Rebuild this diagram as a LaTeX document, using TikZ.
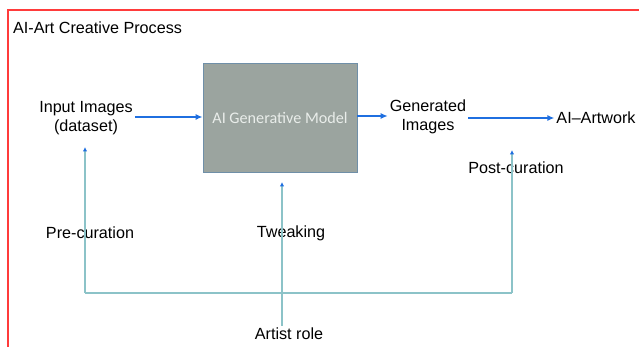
\documentclass[tikz,border=0pt]{standalone}
\usepackage{fontspec}
\setmainfont{Liberation Sans}
\newfontfamily\boxfont{Carlito}
\usetikzlibrary{arrows.meta}
\usetikzlibrary{positioning}
\definecolor{framered}{HTML}{FF3B3B}
\definecolor{flowblue}{HTML}{1F6FE0}
\definecolor{roleteal}{HTML}{8CC3C8}
\definecolor{modelgray}{HTML}{9BA49F}
\definecolor{modeledge}{HTML}{6F8FA8}
\definecolor{modeltext}{HTML}{E9EDEA}
\tikzset{
    label/.style={font=\fontsize{9.2}{11}\selectfont, align=center, inner sep=1pt},
    model/.style={draw=modeledge, line width=0.5pt, fill=modelgray,
        minimum width=154*0.02cm, minimum height=109*0.02cm,
        font=\boxfont\fontsize{9.2}{11}\selectfont, text=modeltext},
    flow/.style={draw=flowblue, line width=1.1pt,
        -{Latex[length=4pt,width=3.5pt]}},
    role/.style={draw=roleteal, line width=0.8pt},
    roletip/.style={draw=roleteal, line width=0.8pt,
        -{Latex[length=2.5pt,width=2.5pt,color=flowblue]}}
}
\begin{document}
\begin{tikzpicture}[x=0.02cm,y=-0.02cm]
	\useasboundingbox (0,0) rectangle (639,347);
	\draw[framered, line width=0.9pt] (8,347) -- (8,10) -- (639,10);
	\node[label, anchor=west] (title) at (11,28) {AI-Art Creative Process};
	% main flow
	\node[model] (gen) at (280,117.5) {AI Generative Model};
	\node[label] (input) at (86,118) {Input Images\\(dataset)};
	\node[label] (images) at (428,117) {Generated\\Images};
	\node[label] (artwork) at (596,118) {AI--Artwork};
	\draw[flow] (input.east |- 0,117) -- (gen.west |- 0,117);
	\draw[flow] (gen.east |- 0,116) -- (images.west |- 0,116);
	\draw[flow] (images.east |- 0,118) -- (artwork.west |- 0,118);
	% artist role
	\node[label] (pre) at (90,233) {Pre-curation};
	\node[label] (tweak) at (291,233) {Tweaking};
	\node[label] (post) at (516,168) {Post-curation};
	\node[label] (artist) at (289,334) {Artist role};
	\coordinate (loopL) at (85,293);
	\coordinate (loopR) at (512,293);
	\coordinate (preTip) at (85,147);
	\coordinate (postTip) at (512,150);
	\coordinate (tweakTip) at (282,182);
	\draw[role] (loopL) -- (loopR);
	\draw[roletip] (loopL) -- (preTip);
	\draw[roletip] (loopR) -- (postTip);
	\draw[roletip] (artist.north -| tweakTip) -- (tweakTip);
\end{tikzpicture}
\end{document}
